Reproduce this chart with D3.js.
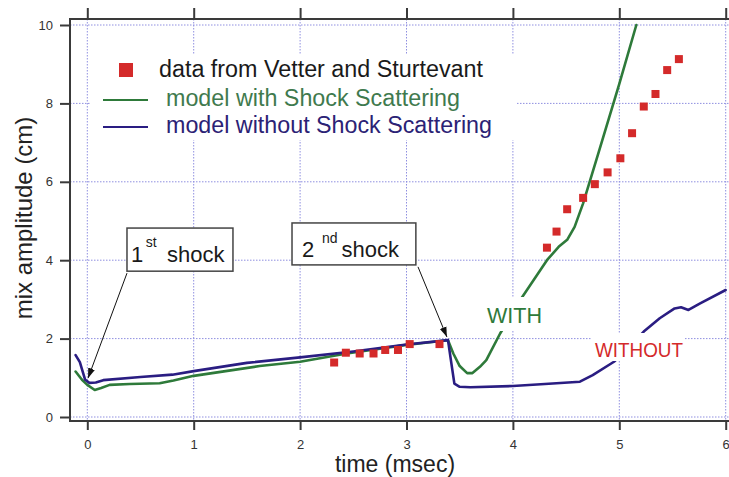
<!DOCTYPE html>
<html>
<head>
<meta charset="utf-8">
<script src="https://cdn.jsdelivr.net/npm/d3@7"></script>
<style>
  html, body { margin: 0; padding: 0; background: #fff; }
  svg { display: block; }
  text { font-family: "Liberation Sans", Arial, Helvetica, sans-serif; }
</style>
</head>
<body>
<svg id="chart" width="729" height="477"></svg>
<script>
// ---- data ----
const xTicks = [0, 1, 2, 3, 4, 5, 6];
const yTicks = [0, 2, 4, 6, 8, 10];

// model with shock scattering (time msec, amplitude cm)
const withT = [-0.11, -0.05, 0.00, 0.07, 0.13, 0.21, 0.40, 0.68, 0.81, 1.00, 1.30, 1.62, 2.00, 2.44, 2.70, 3.00, 3.20, 3.39, 3.44, 3.50, 3.57, 3.62, 3.69, 3.75, 3.88, 4.08, 4.32, 4.43, 4.51, 4.58, 4.66, 4.80, 5.00, 5.16];
const withV = [1.16, 0.95, 0.82, 0.69, 0.74, 0.82, 0.84, 0.86, 0.93, 1.05, 1.17, 1.30, 1.41, 1.62, 1.72, 1.84, 1.90, 1.96, 1.62, 1.30, 1.12, 1.12, 1.28, 1.45, 2.13, 3.03, 4.00, 4.34, 4.52, 4.85, 5.45, 6.70, 8.50, 10.0];

// model without shock scattering
const withoutT = [-0.11, -0.07, -0.02, 0.02, 0.08, 0.15, 0.50, 0.80, 1.00, 1.50, 2.00, 2.50, 3.00, 3.39, 3.42, 3.45, 3.50, 3.60, 4.00, 4.30, 4.63, 4.75, 4.95, 5.10, 5.23, 5.38, 5.52, 5.58, 5.65, 5.76, 6.00];
const withoutV = [1.58, 1.40, 0.95, 0.87, 0.88, 0.94, 1.02, 1.08, 1.17, 1.38, 1.52, 1.67, 1.85, 1.96, 1.40, 0.85, 0.77, 0.76, 0.79, 0.84, 0.90, 1.07, 1.41, 1.80, 2.18, 2.52, 2.77, 2.80, 2.73, 2.90, 3.24];

// data from Vetter and Sturtevant
const dataT = [2.32, 2.43, 2.56, 2.69, 2.80, 2.92, 3.03, 3.31, 4.32, 4.41, 4.51, 4.66, 4.77, 4.89, 5.01, 5.12, 5.23, 5.34, 5.45, 5.56];
const dataV = [1.39, 1.64, 1.62, 1.62, 1.71, 1.71, 1.86, 1.86, 4.32, 4.73, 5.30, 5.59, 5.94, 6.24, 6.60, 7.24, 7.92, 8.24, 8.85, 9.13];

const legendLabels = ["data from Vetter and Sturtevant", "model with Shock Scattering", "model without Shock Scattering"];
const xTitle = "time (msec)";
const yTitle = "mix amplitude (cm)";

// ---- styles ----
const GREEN = "#2e7a3a";
const NAVY = "#2a1d82";
const RED = "#d42a2a";
const GRID = "#8f8fe0";
const FRAME = "#3a3a3a";

const svg = d3.select("#chart");
svg.append("rect").attr("width", 729).attr("height", 477).attr("fill", "#fff");

const x = d3.scaleLinear().domain([0, 6]).range([87.3, 725.7]);
const y = d3.scaleLinear().domain([0, 10]).range([417, 25]);

const frameLeft = 70, frameTop = 19, frameBottom = 421, frameRight = 735;

// gridlines
const grid = svg.append("g");
grid.selectAll("line.v").data(xTicks).join("line")
  .attr("x1", d => x(d)).attr("x2", d => x(d))
  .attr("y1", frameTop).attr("y2", frameBottom)
  .attr("stroke", GRID).attr("stroke-width", 1).attr("stroke-dasharray", "1.5,1.5");
grid.selectAll("line.h").data(yTicks).join("line")
  .attr("x1", frameLeft).attr("x2", frameRight)
  .attr("y1", d => y(d)).attr("y2", d => y(d))
  .attr("stroke", GRID).attr("stroke-width", 1).attr("stroke-dasharray", "1.5,1.5");

// curves
const line = d3.line().x(d => x(d[0])).y(d => y(d[1]));
const withPts = withT.map((t, i) => [t, withV[i]]);
const withoutPts = withoutT.map((t, i) => [t, withoutV[i]]);

svg.append("path").datum(withPts).attr("d", line)
  .attr("fill", "none").attr("stroke", GREEN).attr("stroke-width", 2.6)
  .attr("stroke-linejoin", "round").attr("stroke-linecap", "round");
svg.append("path").datum(withoutPts).attr("d", line)
  .attr("fill", "none").attr("stroke", NAVY).attr("stroke-width", 2.6)
  .attr("stroke-linejoin", "round").attr("stroke-linecap", "round");

// data squares
const sq = 8;
svg.selectAll("rect.pt").data(dataT.map((t, i) => [t, dataV[i]])).join("rect")
  .attr("x", d => x(d[0]) - sq / 2).attr("y", d => y(d[1]) - sq / 2)
  .attr("width", sq).attr("height", sq).attr("fill", RED);

// frame
svg.append("line").attr("x1", frameLeft).attr("x2", frameLeft).attr("y1", frameTop).attr("y2", frameBottom)
  .attr("stroke", FRAME).attr("stroke-width", 2);
svg.append("line").attr("x1", frameLeft - 1).attr("x2", frameRight).attr("y1", frameBottom).attr("y2", frameBottom)
  .attr("stroke", FRAME).attr("stroke-width", 2);
svg.append("line").attr("x1", frameLeft - 1).attr("x2", frameRight).attr("y1", frameTop).attr("y2", frameTop)
  .attr("stroke", FRAME).attr("stroke-width", 2);

// axes
const bottomAxis = svg.append("g").attr("transform", `translate(0,${frameBottom})`)
  .call(d3.axisBottom(x).tickValues(xTicks).tickSize(9).tickSizeOuter(0).tickPadding(10).tickFormat(d3.format("d")));
const topAxis = svg.append("g").attr("transform", `translate(0,${frameTop})`)
  .call(d3.axisTop(x).tickValues(xTicks).tickSize(11).tickSizeOuter(0).tickFormat(""));
const leftAxis = svg.append("g").attr("transform", `translate(${frameLeft},0)`)
  .call(d3.axisLeft(y).tickValues(yTicks).tickSize(10).tickSizeOuter(0).tickPadding(7).tickFormat(d3.format("d")));
[bottomAxis, topAxis, leftAxis].forEach(g => {
  g.select(".domain").remove();
  g.selectAll(".tick line").attr("stroke", FRAME).attr("stroke-width", 2);
  g.selectAll(".tick text").attr("fill", "#333").style("font-size", "13px")
    .style("font-family", '"Liberation Sans", Arial, Helvetica, sans-serif');
});

// axis titles
svg.append("text").attr("x", 395).attr("y", 472).attr("text-anchor", "middle")
  .attr("fill", "#222").style("font-size", "23px").text(xTitle);
svg.append("text").attr("transform", "translate(32,218) rotate(-90)").attr("text-anchor", "middle")
  .attr("fill", "#222").style("font-size", "24px").text(yTitle);

// legend
svg.append("rect").attr("x", 90).attr("y", 55).attr("width", 427).attr("height", 85).attr("fill", "#fff");
svg.append("rect").attr("x", 119).attr("y", 63).attr("width", 14).attr("height", 14).attr("fill", RED);
svg.append("line").attr("x1", 103).attr("x2", 148).attr("y1", 100).attr("y2", 100)
  .attr("stroke", GREEN).attr("stroke-width", 2.2);
svg.append("line").attr("x1", 103).attr("x2", 148).attr("y1", 127).attr("y2", 127)
  .attr("stroke", NAVY).attr("stroke-width", 2.2);
const legendPos = [[159, 77, "#1a1a1a", 324], [166, 106, "#3f7a4e", 294], [166, 133, "#2b2275", 326]];
legendLabels.forEach((lab, i) => {
  svg.append("text").attr("x", legendPos[i][0]).attr("y", legendPos[i][1])
    .attr("fill", legendPos[i][2]).style("font-size", "23px")
    .attr("textLength", legendPos[i][3]).attr("lengthAdjust", "spacingAndGlyphs").text(lab);
});

// WITH / WITHOUT labels
svg.append("rect").attr("x", 484).attr("y", 297).attr("width", 62).attr("height", 34).attr("fill", "#fff");
svg.append("text").attr("x", 487).attr("y", 323).attr("fill", GREEN).style("font-size", "22px")
  .attr("textLength", 55).attr("lengthAdjust", "spacingAndGlyphs").text("WITH");
svg.append("rect").attr("x", 592).attr("y", 333).attr("width", 93).attr("height", 28).attr("fill", "#fff");
svg.append("text").attr("x", 595).attr("y", 357).attr("fill", RED).style("font-size", "21px")
  .attr("textLength", 88).attr("lengthAdjust", "spacingAndGlyphs").text("WITHOUT");

// annotations: shock boxes with arrows
const annotations = [
  { num: "1", sup: "st", box: [0.373, 4.82, 1.369, 3.72], base: 3.95, numX: 0.41, supX: 0.55, wordX: 0.75, supDy: -15,
    from: [0.373, 3.67], to: [0.007, 0.99] },
  { num: "2", sup: "nd", box: [1.924, 4.95, 3.088, 3.88], base: 4.07, numX: 2.018, supX: 2.205, wordX: 2.39, supDy: -14,
    from: [3.108, 3.83], to: [3.38, 2.04] }
];
svg.append("defs").append("marker").attr("id", "arrow")
  .attr("viewBox", "0 0 10 10").attr("refX", 10).attr("refY", 5)
  .attr("markerWidth", 10).attr("markerHeight", 10).attr("markerUnits", "userSpaceOnUse")
  .attr("orient", "auto")
  .append("path").attr("d", "M0,1.5 L10,5 L0,8.5 Z").attr("fill", "#111");

annotations.forEach(a => {
  svg.append("rect")
    .attr("x", x(a.box[0])).attr("y", y(a.box[1]))
    .attr("width", x(a.box[2]) - x(a.box[0])).attr("height", y(a.box[3]) - y(a.box[1]))
    .attr("fill", "#fff").attr("stroke", "#444").attr("stroke-width", 1.5);
  const t = svg.append("text").attr("fill", "#1a1a1a");
  t.append("tspan").attr("x", x(a.numX)).attr("y", y(a.base)).style("font-size", "22px").text(a.num);
  t.append("tspan").attr("x", x(a.supX)).attr("y", y(a.base) + a.supDy).style("font-size", "14px").text(a.sup);
  t.append("tspan").attr("x", x(a.wordX)).attr("y", y(a.base)).style("font-size", "22px").text("shock");
  svg.append("line")
    .attr("x1", x(a.from[0])).attr("y1", y(a.from[1]))
    .attr("x2", x(a.to[0])).attr("y2", y(a.to[1]))
    .attr("stroke", "#111").attr("stroke-width", 1).attr("marker-end", "url(#arrow)");
});
</script>
</body>
</html>
